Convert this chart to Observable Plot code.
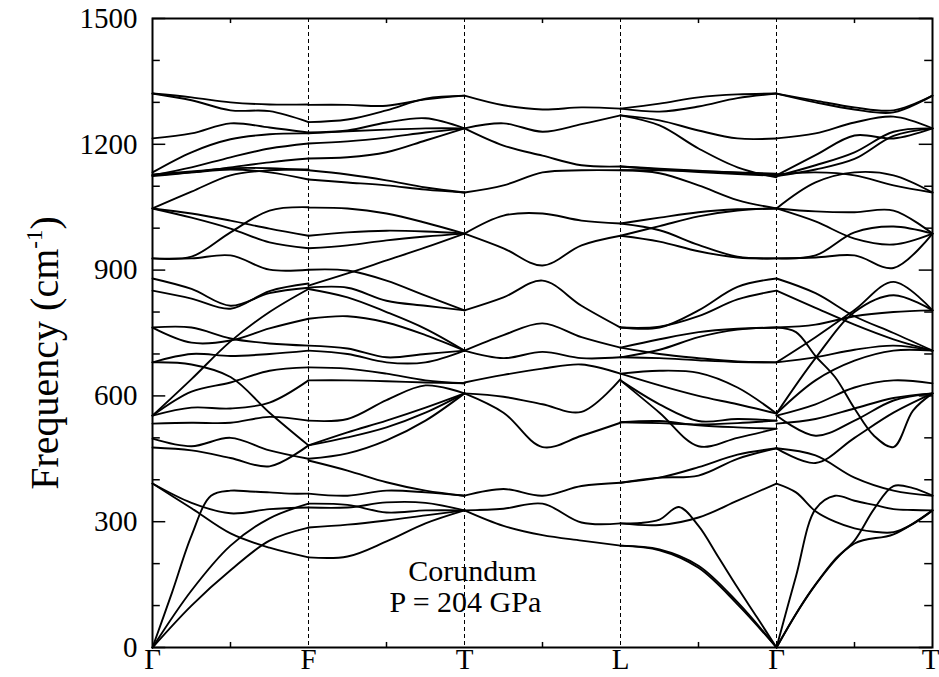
<!DOCTYPE html>
<html><head><meta charset="utf-8">
<script src="https://cdn.jsdelivr.net/npm/d3@7"></script>
<script src="https://cdn.jsdelivr.net/npm/@observablehq/plot@0.6"></script>
<style>
body{margin:0;background:#fff}
svg{display:block}
svg text, svg tspan{font-family:"Liberation Serif", serif !important;}
</style>
</head><body><div id="chart"></div>
<script>
// High-symmetry points along the path
const kPoints = ["Γ","F","T","L","Γ","T"];
const yTicks = [0, 300, 600, 900, 1200, 1500];
const yTitle = "Frequency (cm-1)";
const note1 = "Corundum";
const note2 = "P = 204 GPa";

// Phonon branches, frequencies (cm-1) at evenly spaced points of each segment
const seg1 = [ // Γ -> F
  [1321,1312,1300,1295,1295],
  [1321,1305,1281,1279,1253],
  [1214,1226,1250,1240,1228],
  [1133,1181,1212,1224,1226],
  [1126,1145,1169,1190,1202],
  [1124,1133,1145,1157,1166],
  [1128,1135,1143,1143,1138],
  [1126,1133,1140,1133,1116],
  [1047,1087,1126,1138,1140],
  [1047,1025,999,966,952],
  [1047,1035,1018,999,982],
  [928,932,990,1042,1050],
  [928,928,935,901,901],
  [880,855,815,845,858],
  [851,832,808,850,868],
  [763,763,737,725,720],
  [763,727,732,761,784],
  [553,640,730,800,855],
  [680,700,695,700,708],
  [680,675,645,560,482],
  [553,610,632,660,668],
  [553,572,570,584,637],
  [534,536,536,550,541],
  [498,480,500,470,450],
  [477,470,452,432,482],
  [0,131,267,362,374,372,370,367,367],
  [391,332,272,238,215],
  [391,345,320,330,334],
  [0,136,243,308,343],
  [0,100,184,255,286]
];
const seg2 = [ // F -> T
  [1294,1294,1292,1307,1316],
  [1253,1259,1281,1309,1316],
  [1228,1233,1252,1262,1238],
  [1226,1231,1235,1238,1238],
  [1202,1207,1216,1228,1238],
  [1166,1169,1181,1209,1238],
  [1138,1128,1114,1097,1085],
  [1116,1109,1102,1092,1085],
  [1049,1047,1035,1013,987],
  [982,990,994,992,987],
  [952,959,971,980,987],
  [863,892,923,954,987],
  [901,899,875,839,804],
  [858,858,827,815,804],
  [855,835,800,760,708],
  [784,790,775,745,708],
  [720,713,692,700,708],
  [708,700,680,680,708],
  [668,665,653,637,630],
  [637,637,635,632,630],
  [541,545,590,625,606],
  [482,513,541,572,606],
  [482,501,525,560,606],
  [450,463,494,541,606],
  [446,422,394,374,362],
  [367,362,374,370,362],
  [343,340,322,327,327],
  [334,334,346,345,327],
  [286,293,303,315,327],
  [215,217,253,296,327]
];
const seg3 = [ // T -> L
  [1316,1293,1283,1288,1285],
  [1238,1250,1230,1248,1269],
  [1238,1197,1173,1150,1147],
  [1085,1102,1133,1138,1138],
  [987,1030,1035,1018,1011],
  [987,952,911,959,982],
  [804,835,875,815,763],
  [708,745,773,740,715],
  [708,690,705,690,692],
  [632,650,665,675,653],
  [606,598,580,562,640],
  [606,560,478,505,536],
  [362,378,362,385,393],
  [327,331,343,298,296],
  [327,290,268,255,243]
];
const seg4 = [ // L -> Γ
  [1285,1297,1312,1319,1321],
  [1285,1278,1290,1310,1321],
  [1269,1257,1233,1214,1214],
  [1269,1245,1190,1145,1121],
  [1147,1142,1137,1132,1128],
  [1147,1140,1134,1129,1125],
  [1138,1138,1136,1133,1130],
  [1138,1131,1102,1067,1047],
  [1011,1025,1038,1045,1047],
  [1011,995,960,932,928],
  [982,1005,1028,1042,1047],
  [982,968,945,930,928],
  [763,763,804,860,880],
  [763,765,790,830,851],
  [715,735,752,760,763],
  [692,710,740,758,763],
  [692,690,685,681,680],
  [715,700,690,682,680],
  [653,625,600,580,558],
  [653,660,655,620,558],
  [637,580,540,545,541],
  [637,560,480,500,522],
  [537,535,532,535,541],
  [537,540,530,525,522],
  [393,405,410,450,475],
  [393,405,430,460,475],
  [296,292,310,350,391],
  [296,297,305,335,290,217,143,72,0],
  [243,234,195,108,0],
  [243,232,190,103,0]
];
const seg5 = [ // Γ -> T
  [1321,1304,1288,1281,1316],
  [1321,1300,1283,1276,1316],
  [1214,1226,1252,1266,1238],
  [1126,1174,1221,1214,1238],
  [1124,1150,1181,1230,1238],
  [1124,1140,1165,1220,1238],
  [1128,1133,1126,1102,1085],
  [1047,1109,1133,1126,1085],
  [1047,1040,1038,1042,987],
  [1047,1016,975,961,987],
  [928,935,990,1004,987],
  [928,930,935,905,987],
  [880,845,790,750,708],
  [851,810,770,735,708],
  [763,752,695,645,570,505,478,565,606],
  [763,770,790,800,804],
  [680,740,805,872,804],
  [558,690,800,840,804],
  [680,692,710,720,708],
  [558,637,684,708,708],
  [553,580,620,637,630],
  [553,505,541,589,606],
  [534,545,570,595,606],
  [475,458,405,374,362],
  [475,440,500,560,606],
  [391,370,325,300,284,276,275,295,327],
  [0,170,330,362,350,340,330,328,327],
  [0,150,248,270,327],
  [0,80,150,210,255,330,385,380,362]
];

const segments = [seg1, seg2, seg3, seg4, seg5];
const rows = [];
segments.forEach((seg, s) => seg.forEach((vals, j) => {
  const n = vals.length;
  vals.forEach((f, i) => rows.push({k: s + i / (n - 1), f, id: s + "-" + j}));
}));

const yMinor = d3.range(0, 1501, 100).filter(v => v % 300 !== 0);
const yMajor = yTicks;
const kMid = d3.range(0.5, 5, 1);
const kInner = [1, 2, 3, 4];
const serif = "Liberation Serif";
const note1Pos = {k: 1.64, f: 181};
const note2Pos = {k: 1.52, f: 107};
const kLabelsMain = kPoints.slice(0, 5);
const kLabelLast = kPoints.slice(5);

const chart = Plot.plot({
  width: 939, height: 677,
  marginLeft: 152, marginRight: 7, marginTop: 18, marginBottom: 30,
  x: {domain: [0, 5], axis: null},
  y: {domain: [0, 1500], axis: null},
  style: {background: "white", fontFamily: serif},
  marks: [
    Plot.ruleX(kInner, {stroke: "black", strokeWidth: 1, strokeDasharray: "4,3"}),
    Plot.line(rows, {x: "k", y: "f", z: "id", curve: "catmull-rom", stroke: "black", strokeWidth: 1.9}),
    Plot.ruleY(yMinor, {x1: 0, x2: 0.05, stroke: "black", strokeWidth: 1.5}),
    Plot.ruleY(yMajor, {x1: 0, x2: 0.085, stroke: "black", strokeWidth: 1.5}),
    Plot.ruleY(yMinor, {x1: 4.95, x2: 5, stroke: "black", strokeWidth: 1.5}),
    Plot.ruleY(yMajor, {x1: 4.915, x2: 5, stroke: "black", strokeWidth: 1.5}),
    Plot.ruleX(kMid, {y1: 0, y2: 12, stroke: "black", strokeWidth: 1.5}),
    Plot.ruleX(kMid, {y1: 1488, y2: 1500, stroke: "black", strokeWidth: 1.5}),
    Plot.frame({stroke: "black", strokeWidth: 2}),
    Plot.text(yTicks, {x: 0, y: d => d, text: d => String(d), textAnchor: "end", dx: -15, fontSize: 29, fontFamily: serif, fill: "black"}),
    Plot.text(kLabelsMain, {x: (d, i) => i, y: 0, text: d => d, lineAnchor: "top", dy: 1, fontSize: 29, fontFamily: serif, fill: "black"}),
    Plot.text(kLabelLast, {x: 5, y: 0, text: d => d, lineAnchor: "top", textAnchor: "end", dx: 7, dy: 1, fontSize: 29, fontFamily: serif, fill: "black"}),
    Plot.text([yTitle], {frameAnchor: "left", textAnchor: "middle", rotate: -90, dx: -107, dy: 20, fontSize: 40, fontFamily: serif, fill: "black"}),
    Plot.text([note1], {x: note1Pos.k, y: note1Pos.f, text: d => d, textAnchor: "start", fontSize: 30, fontFamily: serif, fill: "black"}),
    Plot.text([note2], {x: note2Pos.k, y: note2Pos.f, text: d => d, textAnchor: "start", fontSize: 30, fontFamily: serif, fill: "black"})
  ]
});
document.getElementById("chart").appendChild(chart);

// superscript in the axis title
const t = [...chart.querySelectorAll("text")].find(e => e.textContent === yTitle);
if (t) {
  t.textContent = "";
  const ns = "http://www.w3.org/2000/svg";
  const a = document.createElementNS(ns, "tspan"); a.textContent = "Frequency (cm";
  const b = document.createElementNS(ns, "tspan"); b.textContent = "-1"; b.setAttribute("font-size", "23"); b.setAttribute("dy", "-16");
  const c = document.createElementNS(ns, "tspan"); c.textContent = ")"; c.setAttribute("dy", "16");
  t.append(a, b, c);
}
</script>
</body></html>
